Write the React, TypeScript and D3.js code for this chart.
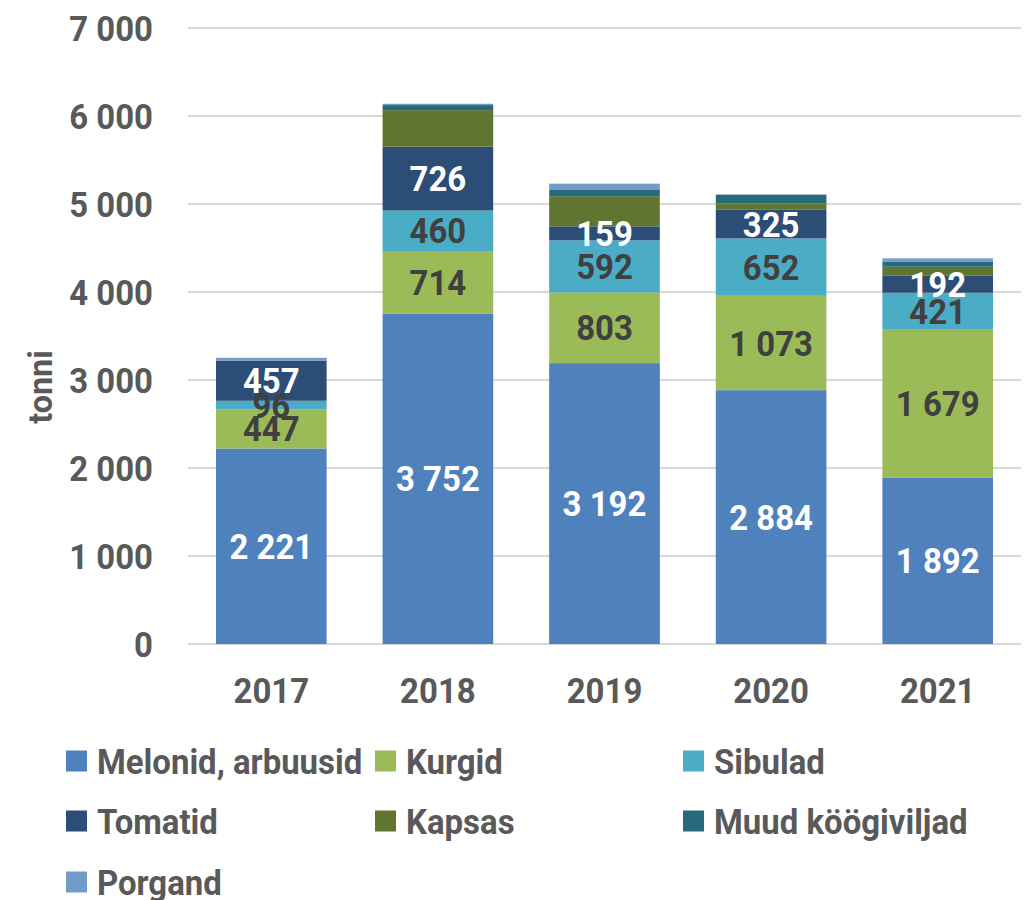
import * as d3 from "d3";

const years = ["2017", "2018", "2019", "2020", "2021"];
const melonid = [2221, 3752, 3192, 2884, 1892];
const kurgid = [447, 714, 803, 1073, 1679];
const sibulad = [96, 460, 592, 652, 421];
const tomatid = [457, 726, 159, 325, 192];
const kapsas = [0, 415, 343, 73, 103];
const muud = [0, 57, 70, 100, 60];
const porgand = [31, 15, 72, 0, 35];

const seriesNames = ["Melonid, arbuusid", "Kurgid", "Sibulad", "Tomatid", "Kapsas", "Muud köögiviljad", "Porgand"];
const seriesValues = [melonid, kurgid, sibulad, tomatid, kapsas, muud, porgand];
const colors = ["#4F81BD", "#9BBB59", "#4BACC6", "#2C4D75", "#5F7530", "#276A7C", "#729ACA"];
const labelColors = ["#ffffff", "#404040", "#404040", "#ffffff", null, null, null];
const yTicks = [0, 1000, 2000, 3000, 4000, 5000, 6000, 7000];

const W = 1029;
const H = 900;
const FONT = "Roboto, 'Liberation Sans', sans-serif";
const SX = 0.915; // squeeze to mimic a condensed face

const fmt = d3.formatLocale({ decimal: ",", thousands: " ", grouping: [3], currency: ["", ""] }).format(",d");

function T({ x, y, anchor = "middle", size = 36, fill = "#595959", rotate = 0, sx = SX, children }: any) {
  const tr = rotate
    ? `translate(${x},${y}) rotate(${rotate}) scale(${sx},1)`
    : `translate(${x},${y}) scale(${sx},1)`;
  return (
    <g transform={tr}>
      <text textAnchor={anchor} dominantBaseline="central" fontFamily={FONT} fontWeight={700} fontSize={size} fill={fill}>
        {children}
      </text>
    </g>
  );
}

export default function App() {
  const x = d3.scaleBand().domain(years).range([188, 1021]).paddingInner(0.336).paddingOuter(0.168);
  const y = d3.scaleLinear().domain([0, 7000]).range([644, 28]);

  const table = years.map((yr, i) => {
    const row: any = { year: yr };
    seriesNames.forEach((s, k) => (row[s] = seriesValues[k][i]));
    return row;
  });
  const stacked = d3.stack().keys(seriesNames)(table);

  const legendCols = [66, 375, 683];
  const legendRows = [761, 821, 882];

  return (
    <svg width={W} height={H} style={{ position: "absolute", left: 0, top: 0, background: "#fff" }}>
      {yTicks.map((t) => (
        <g key={t}>
          <line x1={188} x2={1021} y1={y(t)} y2={y(t)} stroke="#D9D9D9" strokeWidth={2} />
          <T x={153} y={y(t)} anchor="end">{fmt(t)}</T>
        </g>
      ))}
      {stacked.map((layer, k) => (
        <g key={k} fill={colors[k]}>
          {layer.map((d, i) =>
            d[1] - d[0] > 0 ? (
              <rect key={i} x={x(years[i])} width={x.bandwidth()} y={y(d[1])} height={y(d[0]) - y(d[1])} />
            ) : null
          )}
        </g>
      ))}
      {stacked.map((layer, k) =>
        labelColors[k]
          ? layer.map((d, i) => (
              <T key={`${k}-${i}`} x={(x(years[i]) as number) + x.bandwidth() / 2} y={(y(d[0]) + y(d[1])) / 2} fill={labelColors[k] as string}>
                {fmt(d[1] - d[0])}
              </T>
            ))
          : null
      )}
      {years.map((yr) => (
        <T key={yr} x={(x(yr) as number) + x.bandwidth() / 2} y={690}>{yr}</T>
      ))}
      <T x={40} y={387} rotate={-90} size={34} sx={0.95}>tonni</T>
      {seriesNames.map((s, k) => {
        const cx = legendCols[k % 3];
        const cy = legendRows[Math.floor(k / 3)];
        return (
          <g key={s}>
            <rect x={cx} y={cy - 10.5} width={21} height={21} fill={colors[k]} />
            <T x={cx + 31} y={cy} anchor="start">{s}</T>
          </g>
        );
      })}
    </svg>
  );
}
